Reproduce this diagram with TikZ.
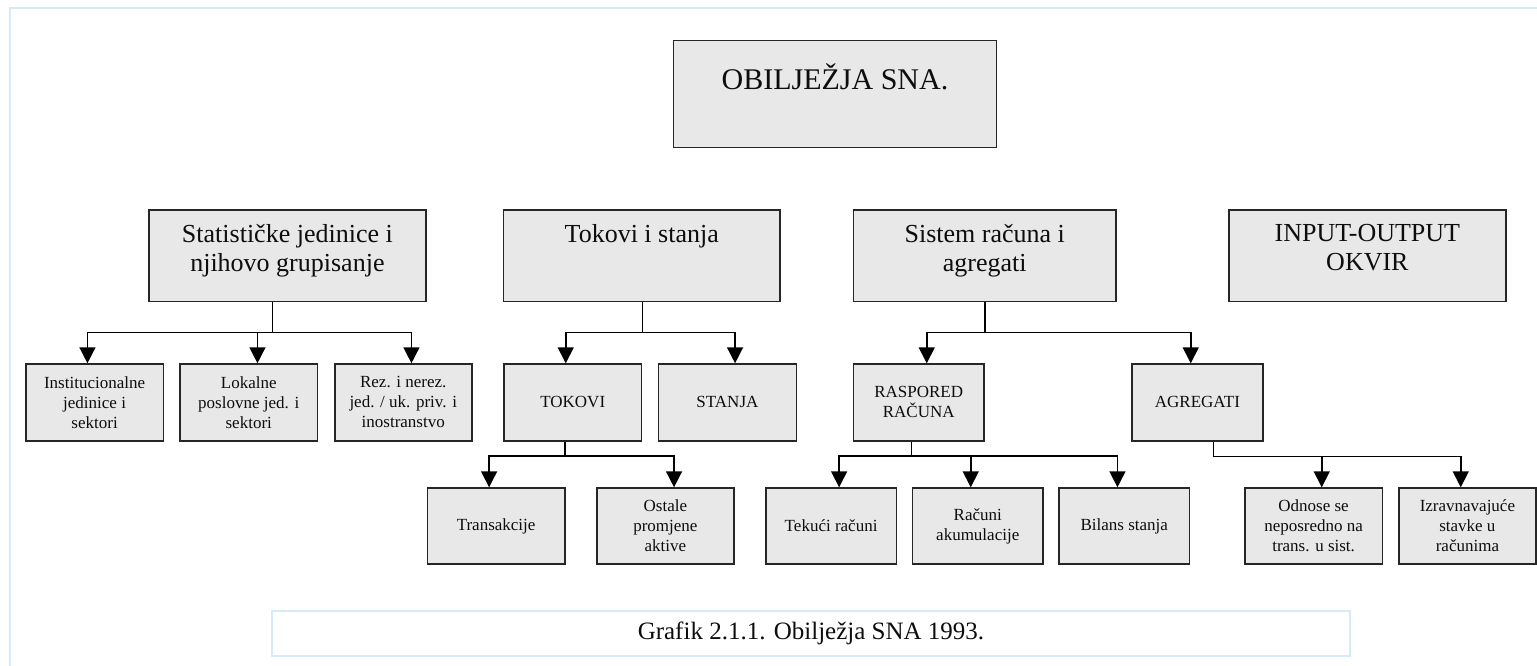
\documentclass[tikz,border=0pt]{standalone}
\usepackage{fontspec}
\setmainfont{Liberation Serif}
\usetikzlibrary{arrows.meta,calc}
\definecolor{frameblue}{HTML}{D6EBFA}
\definecolor{boxfill}{HTML}{E8E8E8}
\tikzset{
  x=1pt,y=-1pt,
  box/.style={draw=black!85,fill=boxfill,line width=1.5pt,inner sep=0pt,anchor=north west},
  conn/.style={line width=1.5pt,black},
  arr/.style={conn,-{Triangle[width=16pt,length=16pt]}},
  tA/.style={font=\fontsize{30}{34}\selectfont,text=black!95,inner sep=0pt},
  tB/.style={font=\fontsize{26}{29.5}\selectfont,align=center,text=black!95,inner sep=0pt},
  tC/.style={font=\fontsize{17}{20}\selectfont,align=center,text=black!95,inner sep=0pt},
  tD/.style={font=\fontsize{25}{28}\selectfont,text=black!95,inner sep=0pt},
}
\newcommand{\mybox}[5]{\node[box,minimum width=#4-#2,minimum height=#5-#3] (#1) at (#2,#3) {};}
\begin{document}
\begin{tikzpicture}
\useasboundingbox (0,0) rectangle (1537,666);
% outer frame
\draw[frameblue,line width=2pt] (9.5,666) -- (9.5,8.5) -- (1537,8.5);
% caption
\node[draw=frameblue,line width=2pt,minimum width=1078,minimum height=45,inner sep=0pt] (cap) at (811,633.2) {};
\node[tD] (capt) at (cap.center) {Grafik 2.1.1. Obilježja SNA 1993.};
% top
\mybox{top}{672.7}{39.7}{995.7}{146.7}
\node[tA,anchor=base] (topt) at ($(top.north)+(0,49.5)$) {OBILJEŽJA SNA.};
% level 2
\mybox{sa}{148.3}{209}{425}{300.7}
\mybox{sb}{502.7}{209}{779.3}{300.7}
\mybox{sc}{852.7}{209}{1115.3}{300.7}
\mybox{sd}{1228.3}{209}{1505}{300.7}
\node[tB,anchor=north] (sat) at ($(sa.north)+(0,15)$) {Statističke jedinice i\\njihovo grupisanje};
\node[tB,anchor=north] (sbt) at ($(sb.north)+(0,15)$) {Tokovi i stanja};
\node[tB,anchor=north] (sct) at ($(sc.north)+(0,15)$) {Sistem računa i\\agregati};
\node[tB,anchor=north] (sdt) at ($(sd.north)+(0,15)$) {INPUT-OUTPUT\\OKVIR};
% level 3
\mybox{la}{25}{363.3}{162.7}{440}
\mybox{lb}{179.3}{363.3}{316.7}{440}
\mybox{lc}{334}{363.3}{471}{440}
\mybox{ld}{503.3}{363.3}{640.7}{440}
\mybox{le}{657.7}{363.3}{795.7}{440}
\mybox{lf}{852.7}{363.3}{983.3}{440}
\mybox{lg}{1131}{363.3}{1262.3}{440}
\node[tC] (lat) at (la.center) {Institucionalne\\jedinice i\\sektori};
\node[tC] (lbt) at (lb.center) {Lokalne\\poslovne jed. i\\sektori};
\node[tC] (lct) at (lc.center) {Rez. i nerez.\\jed. / uk. priv. i\\inostranstvo};
\node[tC] (ldt) at (ld.center) {TOKOVI};
\node[tC] (let) at (le.center) {STANJA};
\node[tC] (lft) at (lf.center) {RASPORED\\RAČUNA};
\node[tC] (lgt) at (lg.center) {AGREGATI};
% level 4
\mybox{ma}{426.7}{487.3}{564}{563.3}
\mybox{mb}{596}{487.3}{733.3}{563.3}
\mybox{mc}{765}{487.3}{895.7}{563.3}
\mybox{md}{911.7}{487.3}{1042.3}{563.3}
\mybox{me}{1058.3}{487.3}{1188.7}{563.3}
\mybox{mf}{1244}{487.3}{1381.7}{563.3}
\mybox{mg}{1398.3}{487.3}{1535}{563.3}
\node[tC] (mat) at (ma.center) {Transakcije};
\node[tC] (mbt) at (mb.center) {Ostale\\promjene\\aktive};
\node[tC] (mct) at (mc.center) {Tekući računi};
\node[tC] (mdt) at (md.center) {Računi\\akumulacije};
\node[tC] (met) at (me.center) {Bilans stanja};
\node[tC] (mft) at (mf.center) {Odnose se\\neposredno na\\trans. u sist.};
\node[tC] (mgt) at (mg.center) {Izravnavajuće\\stavke u\\računima};
% junctions
\coordinate (ja) at (272.3,332.3);
\coordinate (jb) at (642.3,332.3);
\coordinate (jc) at (985,332.3);
\coordinate (jd) at (565,456);
\coordinate (je) at (911.7,456);
\coordinate (jf) at (1213.3,456.5);
% connectors
\draw[conn] (ja |- sa.south) -- (ja);
\draw[arr] (ja) -| ([xshift=-7.15pt]la.north);
\draw[arr] (ja) -| ([xshift=8.7pt]lb.north);
\draw[arr] (ja) -| ([xshift=8.2pt]lc.north);
\draw[conn] (jb |- sb.south) -- (jb);
\draw[arr] (jb) -| ([xshift=-7pt]ld.north);
\draw[arr] (jb) -| ([xshift=7.6pt]le.north);
\draw[conn] (jc |- sc.south) -- (jc);
\draw[arr] (jc) -| ([xshift=8pt]lf.north);
\draw[arr] (jc) -| ([xshift=-6.65pt]lg.north);
\draw[conn] (jd |- ld.south) -- (jd);
\draw[arr] (jd) -| ([xshift=-7pt]ma.north);
\draw[arr] (jd) -| ([xshift=8.65pt]mb.north);
\draw[conn] (je |- lf.south) -- (je);
\draw[arr] (je) -| ([xshift=8pt]mc.north);
\draw[arr] (je) -| ([xshift=-7pt]md.north);
\draw[arr] (je) -| ([xshift=-6.8pt]me.north);
\draw[conn] (jf |- lg.south) -- (jf);
\draw[arr] (jf) -| ([xshift=8.15pt]mf.north);
\draw[arr] (jf) -| ([xshift=-6.65pt]mg.north);
\end{tikzpicture}
\end{document}
